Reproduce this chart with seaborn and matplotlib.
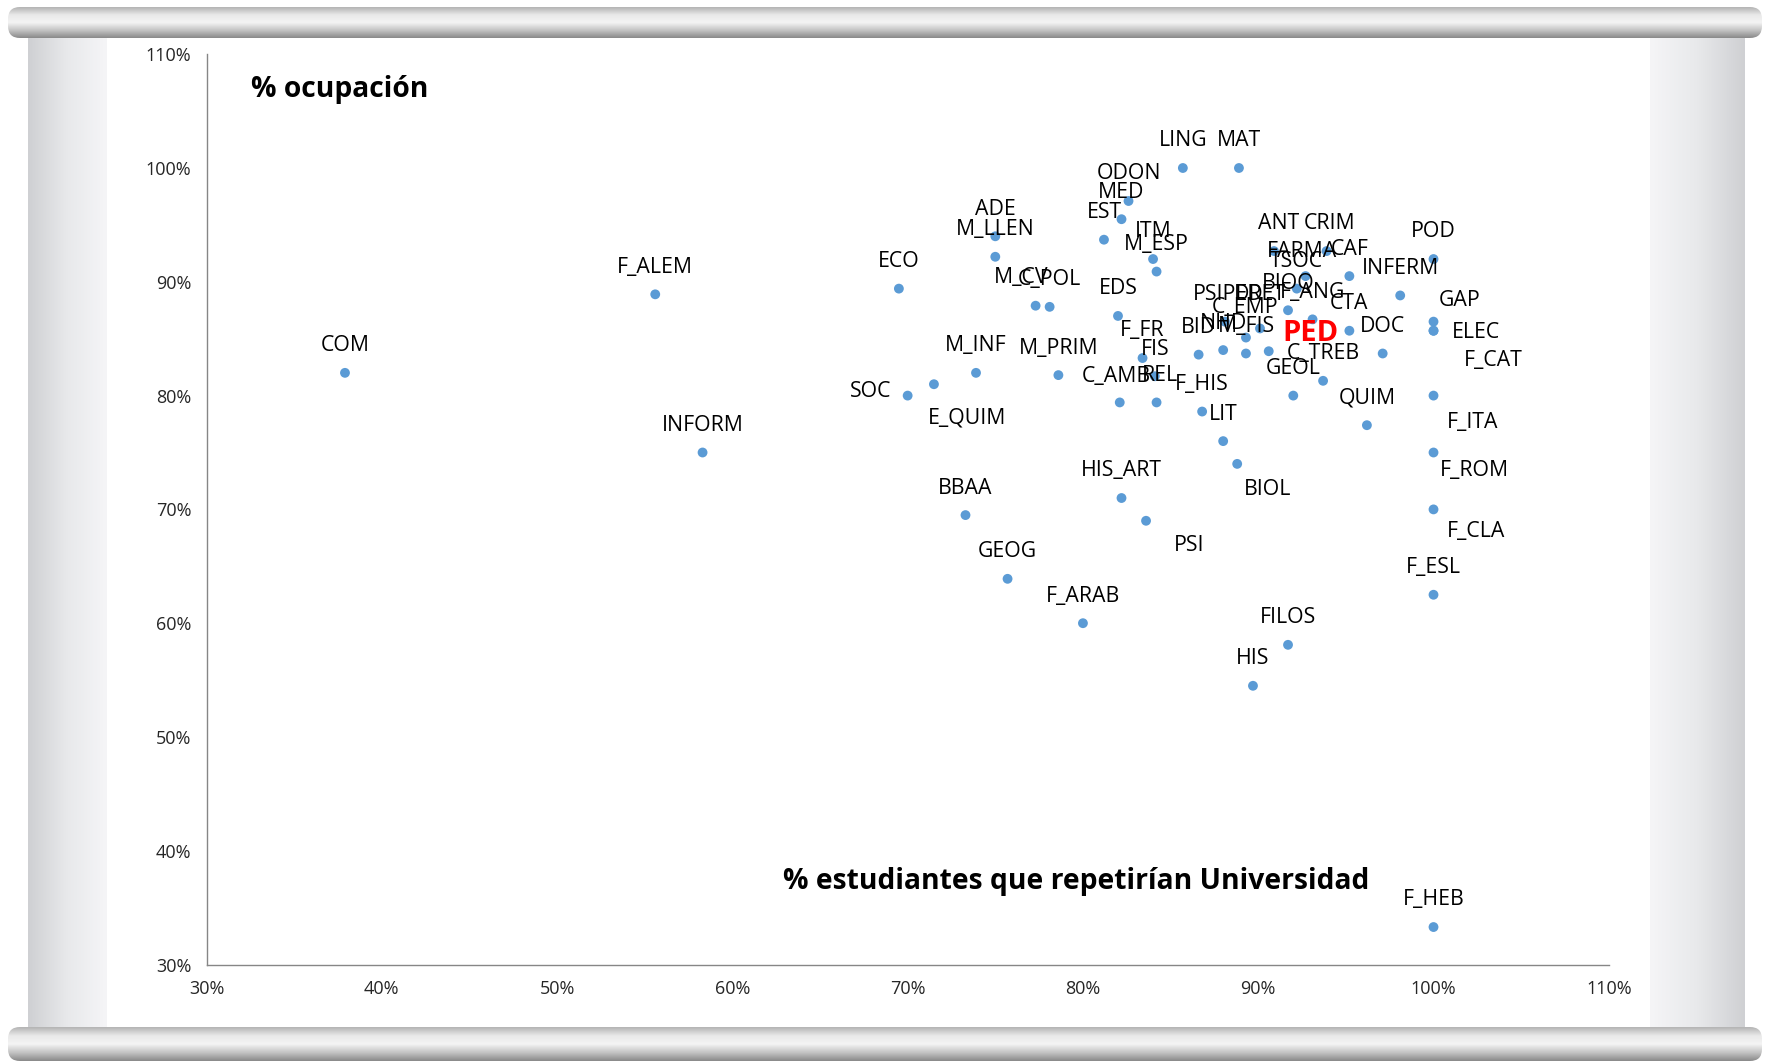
import numpy as np
import pandas as pd
import matplotlib
matplotlib.use('Agg')
import matplotlib.pyplot as plt
import seaborn as sns
from matplotlib.ticker import PercentFormatter, MultipleLocator
from matplotlib.colors import LinearSegmentedColormap
from matplotlib.patches import FancyBboxPatch

# titulaciones
titulaciones = ['COM', 'F_ALEM', 'INFORM', 'ECO', 'SOC', 'E_QUIM', 'M_INF', 'BBAA', 'GEOG',
                'ADE', 'M_LLEN', 'M_CV', 'C_POL', 'M_PRIM', 'F_ARAB', 'EST', 'MED', 'ODON',
                'LING', 'MAT', 'ITM', 'M_ESP', 'EDS', 'F_FR', 'FIS', 'C_AMB', 'REL', 'F_HIS',
                'LIT', 'BIOL', 'HIS_ART', 'PSI', 'FILOS', 'HIS', 'BID', 'NHD', 'M_FIS', 'PED',
                'C_EMP', 'DRET', 'PSIPED', 'BIOQ', 'F_ANG', 'CTA', 'TSOC', 'FARMA', 'ANT',
                'CRIM', 'CAF', 'POD', 'INFERM', 'DOC', 'C_TREB', 'GEOL', 'QUIM', 'GAP', 'ELEC',
                'F_CAT', 'F_ITA', 'F_ROM', 'F_CLA', 'F_ESL', 'F_HEB']

# % estudiantes que repetirian universidad
repetir = [37.9, 55.6, 58.3, 69.5, 70.0, 71.5, 73.9, 73.3, 75.7,
           75.0, 75.0, 77.3, 78.1, 78.6, 80.0, 81.2, 82.2, 82.6,
           85.7, 88.9, 84.0, 84.2, 82.0, 83.4, 84.1, 82.1, 84.2, 86.8,
           88.0, 88.8, 82.2, 83.6, 91.7, 89.7, 86.6, 88.0, 89.3, 90.6,
           89.3, 90.1, 88.1, 91.7, 93.1, 95.2, 92.2, 92.7, 90.9,
           93.9, 95.2, 100.0, 98.1, 97.1, 93.7, 92.0, 96.2, 100.0, 100.0,
           100.0, 100.0, 100.0, 100.0, 100.0, 100.0]

# % ocupacion
ocupacion = [82.0, 88.9, 75.0, 89.4, 80.0, 81.0, 82.0, 69.5, 63.9,
             94.0, 92.2, 87.9, 87.8, 81.8, 60.0, 93.7, 95.5, 97.1,
             100.0, 100.0, 92.0, 90.9, 87.0, 83.3, 81.7, 79.4, 79.4, 78.6,
             76.0, 74.0, 71.0, 69.0, 58.1, 54.5, 83.6, 84.0, 83.7, 83.9,
             85.1, 85.9, 86.5, 87.5, 86.7, 85.7, 89.4, 90.5, 92.7,
             92.7, 90.5, 92.0, 88.8, 83.7, 81.3, 80.0, 77.4, 86.5, 85.7,
             85.7, 80.0, 75.0, 70.0, 62.5, 33.3]

df = pd.DataFrame({'titulacion': titulaciones, 'repetir': repetir, 'ocupacion': ocupacion})

# desplazamiento de etiquetas (px de la imagen de referencia, y hacia abajo)
etiqueta_offset = {
    'SOC': (-33, -4), 'E_QUIM': (29, 30), 'M_CV': (-13, -25), 'BIOL': (27, 23),
    'PSI': (38, 22), 'PED': (37, -16), 'C_EMP': (-1, -27), 'DRET': (0, -30),
    'FARMA': (-3, -22), 'ANT': (4, -24), 'CRIM': (3, -24), 'C_AMB': (-3, -23),
    'REL': (3, -24), 'GAP': (23, -19), 'ELEC': (38, 2), 'F_CAT': (53, 26),
    'F_ITA': (35, 24), 'F_ROM': (36, 16), 'F_CLA': (38, 20), 'PSIPED': (3, -24),
}
PX = 1769 / 1568

sns.set_theme(style='white')
plt.rcParams['font.family'] = ['Open Sans', 'DejaVu Sans']

fig = plt.figure(figsize=(17.69, 10.64), dpi=100)
fig.patch.set_facecolor('white')

# marco tipo pantalla enrollable
deco = fig.add_axes([0, 0, 1, 1])
deco.set_xlim(0, 1769)
deco.set_ylim(1064, 0)
deco.axis('off')

panel_cmap = LinearSegmentedColormap.from_list('panel', ['#cfd0d3', '#e8e9eb', '#f5f5f7'])
grad_h = np.linspace(0, 1, 100).reshape(1, -1)
deco.imshow(grad_h, extent=[28, 107, 1030, 34], aspect='auto', cmap=panel_cmap)
deco.imshow(grad_h[:, ::-1], extent=[1650, 1745, 1030, 34], aspect='auto', cmap=panel_cmap)

bar_cmap = LinearSegmentedColormap.from_list('bar', ['#b4b4b4', '#e9e9e9', '#f4f4f4', '#c4c4c4', '#8a8a8a'])
grad_v = np.linspace(0, 1, 100).reshape(-1, 1)
for y0, y1 in [(7, 38), (1027, 1061)]:
    clip = FancyBboxPatch((8, y0), 1754, y1 - y0, boxstyle='round,pad=0,rounding_size=12',
                          facecolor='none', edgecolor='none', transform=deco.transData)
    deco.add_patch(clip)
    im = deco.imshow(grad_v, extent=[8, 1762, y1, y0], aspect='auto', cmap=bar_cmap)
    im.set_clip_path(clip)
deco.set_xlim(0, 1769)
deco.set_ylim(1064, 0)

# grafico principal
ax = fig.add_axes([206.5 / 1769, 99.4 / 1064, 1402.3 / 1769, 910.4 / 1064])
ax.patch.set_alpha(0)
sns.scatterplot(data=df, x='repetir', y='ocupacion', ax=ax, color='#5B9BD5',
                s=50, edgecolor='none', zorder=3)

ax.set_xlim(30, 110)
ax.set_ylim(30, 110)
ax.xaxis.set_major_locator(MultipleLocator(10))
ax.yaxis.set_major_locator(MultipleLocator(10))
ax.xaxis.set_major_formatter(PercentFormatter(xmax=100, decimals=0))
ax.yaxis.set_major_formatter(PercentFormatter(xmax=100, decimals=0))
ax.set_xlabel('')
ax.set_ylabel('')
for s in ['top', 'right']:
    ax.spines[s].set_visible(False)
for s in ['left', 'bottom']:
    ax.spines[s].set_color('#868686')
    ax.spines[s].set_linewidth(1)
ax.tick_params(axis='both', direction='out', length=5, width=1, color='#868686',
               labelsize=13, labelcolor='#262626', pad=6)

# etiquetas de datos
for nombre, x, y in zip(titulaciones, repetir, ocupacion):
    dx, dy = etiqueta_offset.get(nombre, (0, -24))
    if nombre == 'PED':
        ax.annotate(nombre, (x, y), xytext=(dx * PX, -dy * PX), textcoords='offset pixels',
                    ha='center', va='center', fontsize=21, fontweight='bold', color='red', zorder=4)
    else:
        ax.annotate(nombre, (x, y), xytext=(dx * PX, -dy * PX), textcoords='offset pixels',
                    ha='center', va='center', fontsize=15.3, color='black', zorder=4)

ax.text(0.032, 0.9616, '% ocupación', transform=ax.transAxes, ha='left', va='center',
        fontsize=20.3, fontweight='bold', color='black')
ax.text(0.62, 0.0917, '% estudiantes que repetirían Universidad', transform=ax.transAxes,
        ha='center', va='center', fontsize=20.3, fontweight='bold', color='black')

fig.savefig('out.png', dpi=100)
